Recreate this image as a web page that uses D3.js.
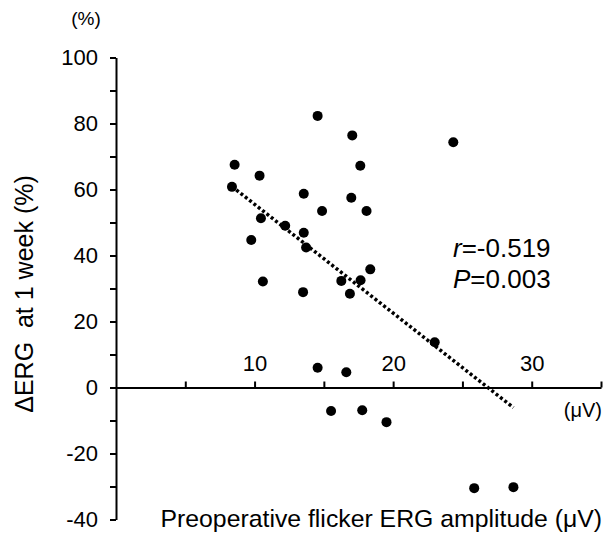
<!DOCTYPE html>
<html>
<head>
<meta charset="utf-8">
<script src="https://cdn.jsdelivr.net/npm/d3@7"></script>
<style>
  body { margin: 0; background: #fff; }
  text { font-family: "Liberation Sans", Arial, sans-serif; fill: #000; }
</style>
</head>
<body>
<div id="chart"></div>
<script>
// Data
const amplitude = [14.55, 17.05, 8.56, 10.36, 17.63, 8.37, 13.55, 16.98, 14.87, 18.08,
  10.46, 12.21, 13.55, 9.76, 13.72, 18.35, 10.6, 16.26, 17.65, 13.5,
  16.88, 14.55, 16.62, 15.52, 17.77, 19.52, 24.34, 23.0, 25.85, 28.68]
const deltaErg = [82.3, 76.4, 67.5, 64.2, 67.2, 60.8, 58.7, 57.5, 53.5, 53.5,
  51.3, 49.0, 46.9, 44.7, 42.4, 35.8, 32.1, 32.3, 32.5, 28.9,
  28.4, 6.0, 4.6, -7.1, -6.9, -10.5, 74.3, 13.7, -30.5, -30.2]
const trendX = [8.37, 28.68]
const trendY = [60.9, -6.1]
const xTicks = [5, 10, 15, 20, 25, 30, 35]
const xLabels = [10, 20, 30]
const yTicks = [-40, -30, -20, -10, 0, 10, 20, 30, 40, 50, 60, 70, 80, 90, 100]
const yLabels = [-40, -20, 0, 20, 40, 60, 80, 100]

const dataset = amplitude.map((x, i) => ({ x, y: deltaErg[i] }))
const trend = trendX.map((x, i) => ({ x, y: trendY[i] }))

// Dimensions
const width = 611
const height = 541

const svg = d3.select('#chart')
  .append('svg')
  .attr('width', width)
  .attr('height', height)

// Scales
const xScale = d3.scaleLinear()
  .domain([0, 35])
  .range([116, 601])

const yScale = d3.scaleLinear()
  .domain([-40, 100])
  .range([519.5, 57.5])

// Axes
const yAxis = d3.axisLeft(yScale)
  .tickValues(yTicks)
  .tickSize(6)
  .tickSizeOuter(0)
  .tickPadding(12)
  .tickFormat(d => yLabels.includes(d) ? d : '')

const yAxisGroup = svg.append('g')
  .attr('transform', `translate(${xScale(0)},0)`)
  .call(yAxis)
yAxisGroup.selectAll('text').style('font-size', '22px')

const xAxis = d3.axisTop(xScale)
  .tickValues(xTicks)
  .tickSize(6)
  .tickSizeOuter(0)
  .tickPadding(11)
  .tickFormat(d => xLabels.includes(d) ? d : '')

const xAxisGroup = svg.append('g')
  .attr('transform', `translate(0,${yScale(0)})`)
  .call(xAxis)
xAxisGroup.selectAll('text').style('font-size', '22px')

svg.selectAll('.domain, .tick line')
  .attr('stroke', '#000')
  .attr('stroke-width', 2)

// Trend line
const line = d3.line()
  .x(d => xScale(d.x))
  .y(d => yScale(d.y))

svg.append('path')
  .datum(trend)
  .attr('d', line)
  .attr('fill', 'none')
  .attr('stroke', '#000')
  .attr('stroke-width', 3.5)
  .attr('stroke-dasharray', '3 2.5')

// Points
svg.append('g')
  .selectAll('circle')
  .data(dataset)
  .join('circle')
  .attr('cx', d => xScale(d.x))
  .attr('cy', d => yScale(d.y))
  .attr('r', 5)
  .attr('fill', '#000')

// Labels
svg.append('text')
  .attr('x', 86)
  .attr('y', 25)
  .attr('text-anchor', 'middle')
  .style('font-size', '19px')
  .text('(%)')

svg.append('text')
  .attr('x', 602)
  .attr('y', 417)
  .attr('text-anchor', 'end')
  .style('font-size', '20px')
  .text('(μV)')

svg.append('text')
  .attr('transform', 'translate(33,294) rotate(-90)')
  .attr('text-anchor', 'middle')
  .style('font-size', '25px')
  .style('white-space', 'pre')
  .text('ΔERG  at 1 week (%)')

svg.append('text')
  .attr('x', 602)
  .attr('y', 527)
  .attr('text-anchor', 'end')
  .style('font-size', '24.8px')
  .text('Preoperative flicker ERG amplitude (μV)')

const rText = svg.append('text')
  .attr('x', 453)
  .attr('y', 257)
  .style('font-size', '26px')
rText.append('tspan').style('font-style', 'italic').text('r')
rText.append('tspan').text('=-0.519')

const pText = svg.append('text')
  .attr('x', 453)
  .attr('y', 288)
  .style('font-size', '26px')
pText.append('tspan').style('font-style', 'italic').text('P')
pText.append('tspan').text('=0.003')
</script>
</body>
</html>
